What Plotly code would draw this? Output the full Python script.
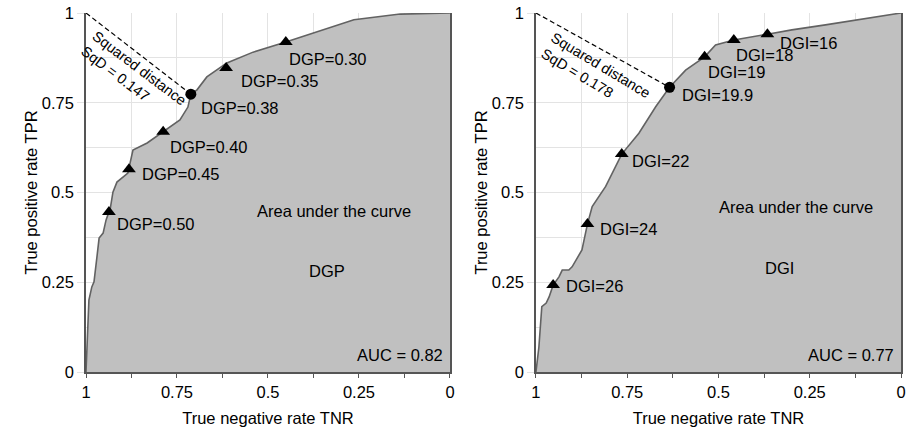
import plotly.graph_objects as go

# ---------------- data (TNR on x, TPR on y) ----------------
dgp_tnr = [1.0, 0.992, 0.984, 0.978, 0.970, 0.964, 0.953, 0.945, 0.937, 0.934, 0.926, 0.915,
           0.885, 0.871, 0.832, 0.788, 0.742, 0.720, 0.712, 0.695, 0.668, 0.613, 0.541,
           0.451, 0.376, 0.321, 0.264, 0.137, 0.0]
dgp_tpr = [0.0, 0.200, 0.237, 0.251, 0.320, 0.373, 0.387, 0.423, 0.446, 0.451, 0.501, 0.529,
           0.554, 0.618, 0.638, 0.669, 0.702, 0.738, 0.774, 0.786, 0.822, 0.861, 0.891,
           0.919, 0.944, 0.961, 0.981, 0.997, 1.0]

dgi_tnr = [1.0, 0.992, 0.984, 0.972, 0.964, 0.953, 0.937, 0.928, 0.910, 0.901, 0.874, 0.859,
           0.846, 0.827, 0.809, 0.765, 0.718, 0.672, 0.634, 0.590, 0.538, 0.508, 0.458,
           0.366, 0.299, 0.207, 0.116, 0.061, 0.0]
dgi_tpr = [0.0, 0.069, 0.182, 0.192, 0.209, 0.242, 0.265, 0.284, 0.284, 0.293, 0.340, 0.412,
           0.461, 0.489, 0.517, 0.607, 0.665, 0.739, 0.793, 0.841, 0.878, 0.911, 0.925,
           0.941, 0.953, 0.967, 0.981, 0.990, 1.0]

dgp_labels = ["DGP=0.50", "DGP=0.45", "DGP=0.40", "DGP=0.35", "DGP=0.30"]
dgp_mk_tnr = [0.937, 0.882, 0.788, 0.615, 0.451]
dgp_mk_tpr = [0.446, 0.565, 0.669, 0.847, 0.919]
dgp_opt_label = "DGP=0.38"
dgp_opt_tnr = 0.712
dgp_opt_tpr = 0.774
dgp_sqd = "0.147"
dgp_auc = "0.82"

dgi_labels = ["DGI=26", "DGI=24", "DGI=22", "DGI=19", "DGI=18", "DGI=16"]
dgi_mk_tnr = [0.953, 0.859, 0.765, 0.538, 0.458, 0.366]
dgi_mk_tpr = [0.242, 0.412, 0.607, 0.878, 0.925, 0.941]
dgi_opt_label = "DGI=19.9"
dgi_opt_tnr = 0.634
dgi_opt_tpr = 0.793
dgi_sqd = "0.178"
dgi_auc = "0.77"

x_ticks = [1, 0.75, 0.5, 0.25, 0]
x_ticktext = ["1", "0.75", "0.5", "0.25", "0"]
y_ticks = [0, 0.25, 0.5, 0.75, 1]
y_ticktext = ["0", "0.25", "0.5", "0.75", "1"]

# label offsets (px) for each marker label
dgp_shift = [(6, -12), (11, -5), (5, -15), (13, -13), (1, -17)]
dgp_opt_shift = (8, -14)
dgi_shift = [(11, -1), (11, -5), (8, -7), (1, -15), (0, -15), (11, -9)]
dgi_opt_shift = (10, -8)

FONT = "Liberation Sans, Arial, sans-serif"
FS = 16.5
FILL = "#c0c0c0"
LINE = "#626262"
GRID = "#e3e3e3"
AX = "#555555"

fig = go.Figure()
annotations = []


def panel(xa, ya, tnr, tpr, mk_tnr, mk_tpr, labels, shifts, opt_tnr, opt_tpr, opt_label,
          opt_shift, sqd, auc, name, area_pos, name_pos, sqd_pos, sqd_angle, sqd_shift):
    fig.add_trace(go.Scatter(x=tnr, y=tpr, mode="lines", fill="tozeroy", fillcolor=FILL,
                             line=dict(color=LINE, width=1.6), xaxis=xa, yaxis=ya,
                             hoverinfo="skip", showlegend=False))
    fig.add_trace(go.Scatter(x=[1, opt_tnr], y=[1, opt_tpr], mode="lines",
                             line=dict(color="black", width=1.2, dash="5px,3px"),
                             xaxis=xa, yaxis=ya, showlegend=False))
    fig.add_trace(go.Scatter(x=mk_tnr, y=mk_tpr, mode="markers",
                             marker=dict(symbol="triangle-up", size=12, color="black"),
                             xaxis=xa, yaxis=ya, showlegend=False))
    fig.add_trace(go.Scatter(x=[opt_tnr], y=[opt_tpr], mode="markers",
                             marker=dict(symbol="circle", size=11, color="black"),
                             xaxis=xa, yaxis=ya, showlegend=False))
    for xv, yv, t, (dx, dy) in zip(mk_tnr + [opt_tnr], mk_tpr + [opt_tpr],
                                   labels + [opt_label], shifts + [opt_shift]):
        annotations.append(dict(x=xv, y=yv, xref=xa, yref=ya, text=t, showarrow=False,
                                xanchor="left", yanchor="middle", xshift=dx, yshift=dy,
                                font=dict(family=FONT, size=FS, color="black")))
    annotations.append(dict(x=area_pos[0], y=area_pos[1], xref=xa, yref=ya,
                            text="Area under the curve", showarrow=False,
                            font=dict(family=FONT, size=FS, color="black")))
    annotations.append(dict(x=name_pos[0], y=name_pos[1], xref=xa, yref=ya,
                            text=name, showarrow=False,
                            font=dict(family=FONT, size=FS, color="black")))
    annotations.append(dict(x=0.0, y=0.047, xref=xa, yref=ya, text="AUC = " + auc,
                            showarrow=False, xanchor="right", xshift=-5,
                            font=dict(family=FONT, size=FS, color="black")))
    annotations.append(dict(x=sqd_pos[0], y=sqd_pos[1], xref=xa, yref=ya,
                            text="Squared distance<br>SqD = " + sqd, showarrow=False,
                            align="left", textangle=sqd_angle,
                            xshift=sqd_shift[0], yshift=sqd_shift[1],
                            font=dict(family=FONT, size=14.5, color="black")))


panel("x", "y", dgp_tnr, dgp_tpr, dgp_mk_tnr, dgp_mk_tpr, dgp_labels, dgp_shift,
      dgp_opt_tnr, dgp_opt_tpr, dgp_opt_label, dgp_opt_shift, dgp_sqd, dgp_auc, "DGP",
      (0.319, 0.448), (0.338, 0.281), (0.868, 0.833), 37, (-1, -3))
panel("x2", "y2", dgi_tnr, dgi_tpr, dgi_mk_tnr, dgi_mk_tpr, dgi_labels, dgi_shift,
      dgi_opt_tnr, dgi_opt_tpr, dgi_opt_label, dgi_opt_shift, dgi_sqd, dgi_auc, "DGI",
      (0.289, 0.459), (0.334, 0.289), (0.836, 0.833), 31, (0, -1))


def xaxis(domain, anchor):
    return dict(domain=domain, anchor=anchor, range=[1, 0], tickvals=x_ticks,
                ticktext=x_ticktext, showgrid=True, gridcolor=GRID, gridwidth=1,
                zeroline=False, showline=True, linecolor=AX, linewidth=1.5,
                ticks="outside", ticklen=4, tickcolor=AX, automargin=False,
                minor=dict(dtick=0.125, tick0=0, showgrid=True, gridcolor=GRID,
                           ticks="outside", ticklen=4, tickcolor=AX),
                tickfont=dict(family=FONT, size=FS, color="black"),
                title=dict(text="True negative rate TNR", standoff=16,
                           font=dict(family=FONT, size=FS, color="black")))


def yaxis(anchor):
    return dict(domain=[0, 1], anchor=anchor, range=[0, 1], tickvals=y_ticks,
                ticktext=y_ticktext, showgrid=True, gridcolor=GRID, gridwidth=1,
                zeroline=False, showline=True, mirror=True, linecolor=AX, linewidth=1.5,
                ticks="outside", ticklen=7, tickcolor=GRID, automargin=False,
                minor=dict(dtick=0.125, tick0=0, showgrid=True, gridcolor=GRID),
                tickfont=dict(family=FONT, size=FS, color="black"),
                title=dict(text="True positive rate TPR", standoff=0,
                           font=dict(family=FONT, size=FS, color="black")))


fig.update_layout(
    width=919, height=427,
    margin=dict(l=86, r=18, t=13, b=55, autoexpand=False),
    paper_bgcolor="white", plot_bgcolor="white",
    xaxis=xaxis([0, 0.4466], "y"),
    yaxis=yaxis("x"),
    xaxis2=xaxis([0.5521, 1], "y2"),
    yaxis2=yaxis("x2"),
    annotations=annotations,
    showlegend=False,
)

fig.write_html("out.html", config={"displayModeBar": False},
               post_script="document.body.style.margin='0';document.body.style.overflow='hidden';")
